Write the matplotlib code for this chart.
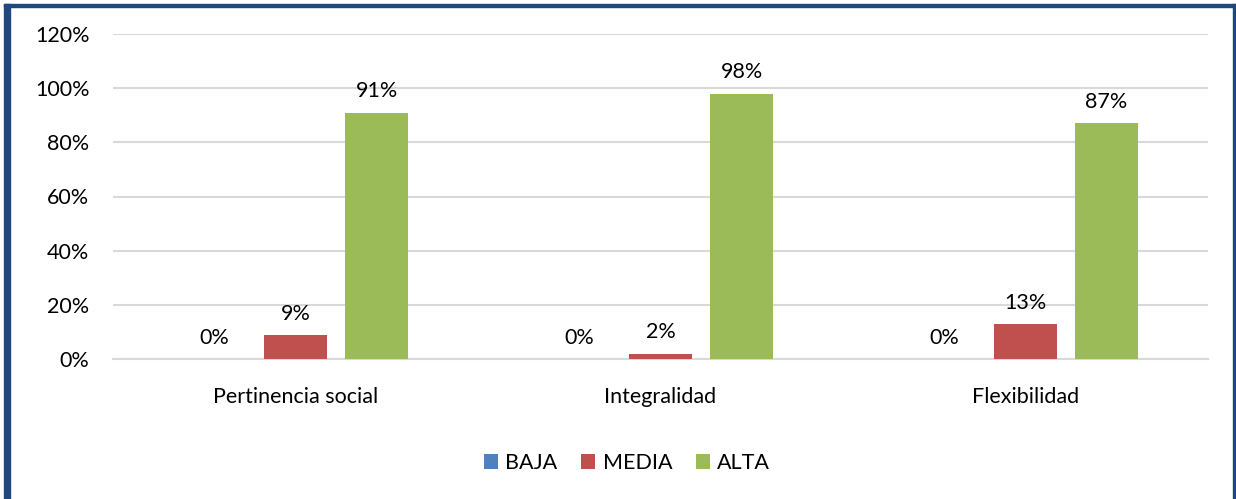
import numpy as np
import matplotlib
matplotlib.use('Agg')
import matplotlib.pyplot as plt
from matplotlib.patches import Rectangle

# Data
categories = ['Pertinencia social', 'Integralidad', 'Flexibilidad']
series_names = ['BAJA', 'MEDIA', 'ALTA']
baja = [0, 0, 0]
media = [9, 2, 13]
alta = [91, 98, 87]
colors = ['#4F81BD', '#C0504D', '#9BBB59']

plt.rcParams['font.family'] = ['Lato', 'DejaVu Sans']
fs = 15.5

W, H = 1236, 499
fig = plt.figure(figsize=(W / 100, H / 100), dpi=100)
ax = fig.add_axes([113 / W, 1 - 359 / H, 1095 / W, (359 - 34) / H])

x = np.arange(len(categories))
width = 0.173
step = 0.222
for i, (vals, name, col) in enumerate(zip([baja, media, alta], series_names, colors)):
    pos = x + (i - 1) * step
    ax.bar(pos, vals, width, color=col, label=name, zorder=3)
    for p, v in zip(pos, vals):
        ax.annotate(f'{v}%', (p, v), xytext=(0, 8), textcoords='offset points',
                    ha='center', va='bottom', fontsize=fs, color='#000000')

ax.set_xlim(-0.5, len(categories) - 0.5)
ax.set_ylim(0, 120)
ax.set_yticks(range(0, 121, 20))
ax.set_yticklabels([f'{t}%' for t in range(0, 121, 20)], fontsize=fs)
ax.set_xticks(x)
ax.set_xticklabels(categories, fontsize=fs)
ax.tick_params(axis='x', length=0, pad=20)
ax.tick_params(axis='y', length=0, pad=17)
ax.grid(axis='y', color='#D9D9D9', linewidth=1.5, zorder=0)
for s in ['top', 'right', 'left']:
    ax.spines[s].set_visible(False)
ax.spines['bottom'].set_color('#D9D9D9')
ax.spines['bottom'].set_linewidth(1.5)

fig.legend(loc='center', bbox_to_anchor=(627 / W, 1 - 463 / H), ncol=3,
           frameon=False, fontsize=fs, handlelength=0.65, handleheight=0.65,
           handletextpad=0.35, columnspacing=1.1)

# dark blue frame around the figure
border = '#1F497D'
fig.patches.append(Rectangle((4 / W, 0), 6 / W, 1 - 4 / H, transform=fig.transFigure,
                             color=border, zorder=10))
fig.patches.append(Rectangle((4 / W, 1 - 7 / H), (1236 - 4) / W, 3 / H,
                             transform=fig.transFigure, color=border, zorder=10))
fig.patches.append(Rectangle((1233 / W, 0), 3 / W, 1 - 4 / H, transform=fig.transFigure,
                             color=border, zorder=10))

fig.savefig('out.png', dpi=100)
